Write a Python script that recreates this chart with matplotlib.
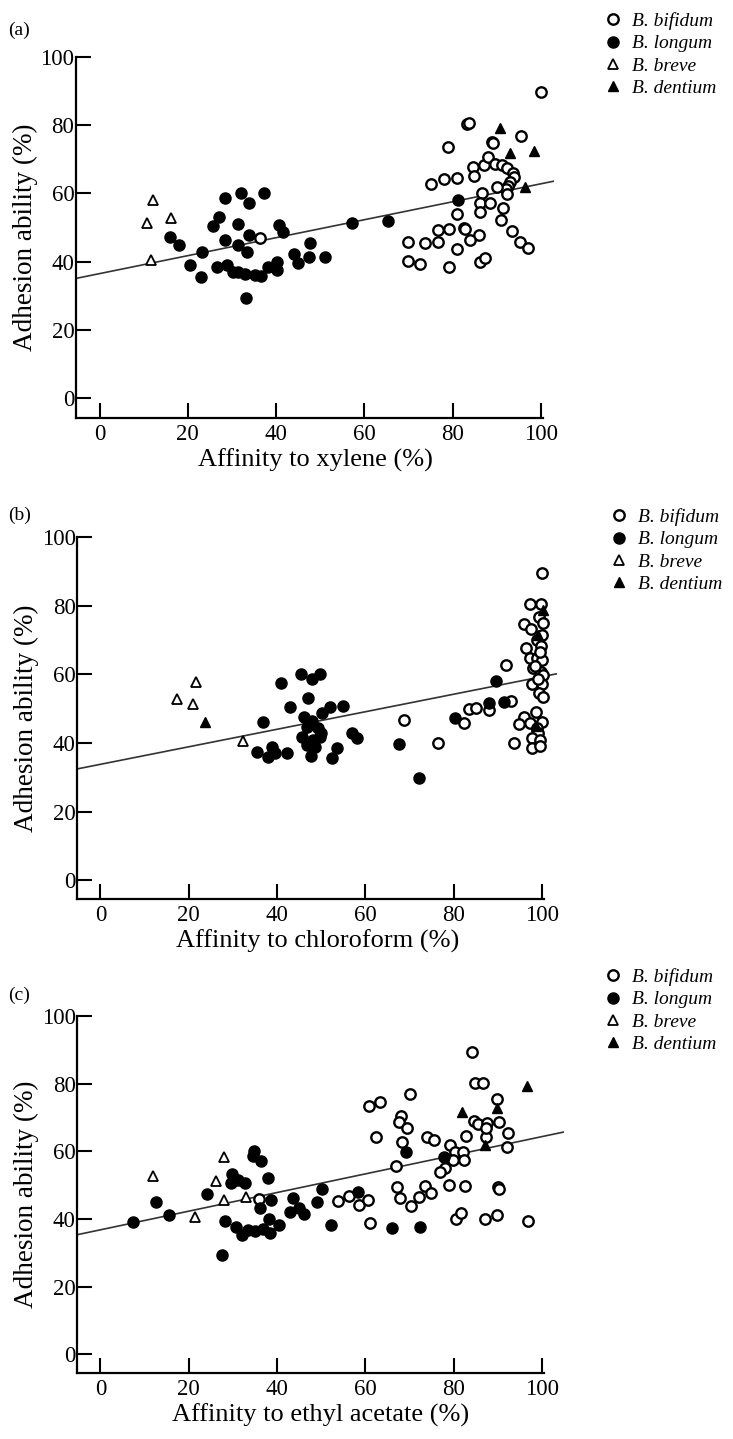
import numpy as np
import matplotlib
matplotlib.use("Agg")
import matplotlib.pyplot as plt

plt.rcParams['font.family'] = ['Liberation Serif', 'DejaVu Serif']

species = ['B. bifidum', 'B. longum', 'B. breve', 'B. dentium']
xlabels = ['Affinity to xylene (%)', 'Affinity to chloroform (%)', 'Affinity to ethyl acetate (%)']
panel_tags = ['(a)', '(b)', '(c)']
ticks = [0, 20, 40, 60, 80, 100]

# (a) xylene
a_bifidum = [(36.3, 46.8), (99.9, 89.6), (83.2, 80.3), (83.6, 80.5), (79.0, 73.5), (88.8, 75.0), (89.1, 74.8),
             (95.5, 76.8), (75.1, 62.7), (78.1, 64.1), (80.9, 64.4), (84.7, 67.8), (84.8, 65.1), (87.2, 68.2),
             (88.1, 70.5), (89.7, 68.6), (91.1, 68.3), (92.2, 67.3), (93.6, 66.0), (93.9, 64.7), (93.1, 63.4),
             (92.6, 62.1), (92.1, 61.2), (90.0, 61.9), (92.2, 59.7), (86.7, 60.0), (86.2, 57.1), (88.4, 57.2),
             (86.3, 54.6), (91.5, 55.6), (90.9, 52.2), (80.9, 53.9), (76.7, 49.3), (79.2, 49.5), (82.6, 49.9),
             (82.9, 49.6), (86.0, 47.8), (83.9, 46.3), (76.6, 45.8), (73.7, 45.4), (69.9, 45.8), (80.9, 43.6),
             (93.4, 49.0), (95.2, 45.7), (97.0, 43.9), (69.8, 40.2), (72.6, 39.2), (79.2, 38.5), (86.2, 39.8),
             (87.3, 41.0)]
a_longum = [(15.9, 47.1), (18.0, 44.9), (20.6, 39.0), (23.1, 42.9), (23.0, 35.4), (25.6, 50.4), (27.1, 53.1),
            (28.4, 58.5), (28.4, 46.3), (26.5, 38.3), (28.8, 39.0), (30.2, 37.1), (31.4, 50.9), (32.0, 60.2),
            (33.8, 57.2), (31.4, 44.9), (33.3, 42.9), (33.9, 47.8), (31.4, 37.1), (32.9, 36.3), (33.1, 29.3),
            (35.2, 36.1), (36.5, 35.9), (37.2, 60.0), (38.1, 38.3), (40.1, 37.5), (40.3, 40.0), (40.6, 50.7),
            (41.6, 48.8), (44.1, 42.2), (44.9, 39.7), (47.7, 45.5), (47.5, 41.4), (51.1, 41.4), (57.3, 51.4),
            (65.4, 52.0), (81.3, 58.0)]
a_breve = [(12.2, 58.0), (10.7, 51.4), (16.3, 52.7), (11.6, 40.5)]
a_dentium = [(90.7, 79.0), (93.0, 71.7), (98.4, 72.4), (96.4, 61.9)]
a_fit = (36.5, 0.263)  # intercept, slope

# (b) chloroform
b_bifidum = [(47.6, 42.5), (68.8, 46.7), (76.5, 39.9), (82.4, 45.7), (83.5, 49.8), (85.1, 50.1), (87.9, 49.6),
             (91.9, 62.7), (92.9, 52.2), (93.7, 40.1), (99.9, 89.4), (97.3, 80.4), (99.7, 80.4), (99.4, 76.6),
             (100.3, 74.8), (95.9, 74.6), (97.5, 73.1), (98.8, 70.0), (99.7, 68.2), (96.4, 67.6), (97.3, 64.7),
             (98.8, 64.7), (99.9, 64.2), (98.0, 61.7), (99.7, 60.8), (100.3, 59.8), (97.7, 57.2), (99.9, 57.2),
             (99.4, 54.5), (100.2, 53.5), (98.7, 49.1), (95.9, 47.6), (97.3, 45.9), (94.9, 45.5), (99.9, 46.2),
             (98.8, 44.3), (99.2, 42.8), (97.7, 41.4), (99.6, 40.9), (97.7, 38.5), (99.6, 39.1), (99.5, 66.5),
             (98.5, 62.5), (100.0, 71.5), (99.0, 58.5)]
b_longum = [(36.9, 46.2), (41.0, 57.4), (45.4, 60.0), (47.8, 58.5), (49.7, 60.0), (42.9, 50.6), (46.9, 53.2),
            (52.0, 50.6), (55.0, 50.9), (50.1, 48.6), (46.2, 47.7), (46.7, 44.7), (49.3, 44.3), (45.6, 41.8),
            (49.7, 41.8), (46.7, 39.4), (48.6, 38.9), (47.7, 36.2), (35.4, 37.5), (38.8, 38.9), (39.5, 37.0),
            (37.9, 36.0), (42.3, 37.0), (53.5, 38.5), (52.5, 35.5), (56.9, 43.0), (58.0, 41.5), (48.2, 40.9),
            (48.0, 46.5), (50.0, 43.0), (67.7, 39.6), (72.2, 29.7), (80.3, 47.2), (89.6, 58.0), (87.9, 51.6),
            (91.3, 52.0)]
b_breve = [(21.6, 57.8), (17.3, 52.7), (20.9, 51.4), (32.2, 40.6)]
b_dentium = [(23.7, 46.2), (100.3, 78.7), (99.2, 71.4), (98.6, 45.0)]
b_fit = (33.8, 0.255)

# (c) ethyl acetate
c_bifidum = [(35.9, 45.8), (53.9, 45.4), (56.3, 46.9), (84.1, 89.4), (70.1, 76.9), (84.9, 80.3), (86.7, 80.3),
             (89.8, 75.4), (60.9, 73.4), (63.3, 74.7), (68.1, 70.5), (67.6, 68.6), (69.5, 67.0), (62.4, 64.3),
             (68.4, 62.8), (74.0, 64.3), (75.6, 63.2), (82.8, 64.5), (84.5, 68.9), (85.6, 68.0), (87.6, 68.3),
             (90.3, 68.6), (92.4, 65.3), (92.0, 61.4), (87.3, 64.3), (87.3, 66.8), (79.2, 61.9), (80.2, 59.9),
             (82.2, 59.9), (79.9, 57.4), (82.4, 57.4), (78.0, 55.2), (76.9, 53.8), (66.9, 55.7), (67.1, 49.5),
             (67.9, 46.3), (70.3, 43.8), (72.2, 46.6), (73.5, 49.7), (74.8, 47.8), (79.0, 50.0), (82.6, 49.7),
             (90.1, 49.3), (90.3, 49.0), (58.6, 44.1), (60.6, 45.6), (61.1, 38.7), (80.5, 39.9), (81.6, 41.9),
             (87.1, 39.9), (89.8, 41.2), (96.8, 39.4)]
c_longum = [(7.3, 39.2), (12.5, 44.9), (15.6, 41.2), (24.1, 47.4), (27.5, 29.4), (28.2, 39.5), (30.6, 37.5),
            (32.0, 35.3), (33.5, 36.8), (35.0, 36.3), (36.9, 37.0), (38.4, 36.0), (40.4, 38.2), (38.2, 39.9),
            (36.1, 43.2), (38.6, 45.6), (38.0, 52.0), (29.7, 53.3), (29.6, 50.6), (31.2, 51.5), (32.7, 50.7),
            (34.5, 58.6), (34.8, 60.1), (36.4, 57.2), (43.5, 46.3), (42.9, 42.0), (45.0, 43.2), (46.2, 41.5),
            (49.0, 45.1), (50.2, 48.8), (52.2, 38.2), (58.4, 48.1), (66.0, 37.3), (72.4, 37.7), (69.2, 59.9),
            (77.8, 58.2)]
c_breve = [(12.0, 52.7), (28.0, 58.2), (26.2, 51.3), (28.0, 45.6), (33.0, 46.6), (21.3, 40.5)]
c_dentium = [(96.6, 79.3), (82.0, 71.7), (89.8, 72.7), (87.1, 61.9)]
c_fit = (36.8, 0.2753)

panels = [
    (a_bifidum, a_longum, a_breve, a_dentium, a_fit),
    (b_bifidum, b_longum, b_breve, b_dentium, b_fit),
    (c_bifidum, c_longum, c_breve, c_dentium, c_fit),
]

W, H = 733, 1439
fig = plt.figure(figsize=(W / 100, H / 100), dpi=100)

# pixel boxes (left, top, right, bottom) and axis limits for each panel
boxes = [(75.7, 56.7, 554.2, 418.3), (77.1, 536.9, 557.4, 899.3), (77.1, 1015.9, 564.0, 1373.3)]
xlims = [(-5.4, 103.0), (-5.3, 103.5), (-5.3, 105.0)]
ylims = [(-5.85, 100), (-5.5, 100), (-5.6, 100)]
legend_top = [12, 508, 968]
legend_left = [603, 609, 603]
tag_y = [30, 515, 995]

styles = [
    dict(marker='o', mfc='white', mec='black', ms=7.5, mew=1.7),
    dict(marker='o', mfc='black', mec='black', ms=8, mew=1.0),
    dict(marker='^', mfc='white', mec='black', ms=6.5, mew=1.3),
    dict(marker='^', mfc='black', mec='black', ms=7, mew=1.0),
]

for i, (bif, lon, bre, den, fit) in enumerate(panels):
    l, t, r, b = boxes[i]
    ax = fig.add_axes([l / W, 1 - b / H, (r - l) / W, (b - t) / H])
    ax.set_xlim(*xlims[i])
    ax.set_ylim(*ylims[i])
    ax.axline((0, fit[0]), slope=fit[1], color='#333333', lw=1.2, zorder=1)
    for pts, name, st in zip([bif, lon, bre, den], species, styles):
        arr = np.array(pts)
        ax.plot(arr[:, 0], arr[:, 1], ls='none', label=name, clip_on=False, zorder=3, **st)

    for s in ['top', 'right']:
        ax.spines[s].set_visible(False)
    ax.spines['left'].set_linewidth(1.6)
    ax.spines['bottom'].set_linewidth(1.6)
    ax.spines['bottom'].set_bounds(xlims[i][0], 100.4)
    ax.spines['left'].set_bounds(ylims[i][0], 100)
    ax.set_xticks(ticks)
    ax.set_yticks(ticks)
    ax.tick_params(axis='both', direction='in', length=11, width=1.5, labelsize=16.5)
    ax.tick_params(axis='y', pad=1)
    ax.tick_params(axis='x', pad=4)
    ax.set_xlabel(xlabels[i], fontsize=19, labelpad=3)
    ax.set_ylabel('Adhesion ability (%)', fontsize=19.5, labelpad=2)

    ax.legend(loc='upper left', bbox_to_anchor=(legend_left[i] / W, 1 - legend_top[i] / H),
              bbox_transform=fig.transFigure, frameon=False,
              prop={'style': 'italic', 'size': 14}, labelspacing=0.25,
              handletextpad=0.5, handlelength=1.0, borderpad=0, borderaxespad=0)

    fig.text(8 / W, 1 - tag_y[i] / H, panel_tags[i], fontsize=14, va='center', ha='left')

fig.savefig('out.png', dpi=100, facecolor='white')
